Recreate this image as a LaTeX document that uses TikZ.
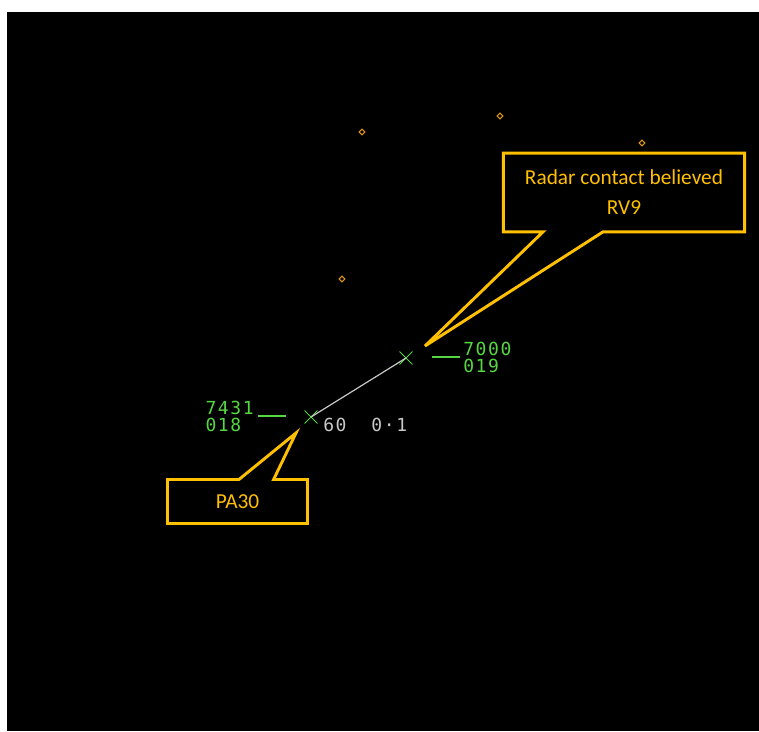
\documentclass[tikz,border=0pt]{standalone}
\usepackage{fontspec}
\setmainfont{Carlito}
\newfontfamily\radarfont[LetterSpace=9]{DejaVu Sans Mono}
\usetikzlibrary{positioning,shapes.misc,shapes.geometric,shapes.callouts}
\definecolor{calloutorange}{RGB}{255,192,0}
\definecolor{fixorange}{RGB}{225,150,25}
\definecolor{radargreen}{RGB}{85,215,65}
\definecolor{radargrey}{RGB}{200,200,200}

\begin{document}
\begin{tikzpicture}[x=0.75pt,y=-0.75pt,
    track/.style={cross out,draw=radargreen,minimum size=9pt,inner sep=0pt,line width=0.7pt},
    fix/.style={diamond,draw=fixorange,minimum size=4.5pt,inner sep=0pt,line width=0.8pt},
    datablock/.style={text=radargreen,font=\radarfont\fontsize{13.5}{12.75}\selectfont,align=left,inner sep=0pt},
    readout/.style={text=radargrey,font=\radarfont\fontsize{13.5}{12.75}\selectfont,inner sep=0pt},
    leader/.style={draw=radargreen,line width=0.8pt},
    balloon/.style={rectangle callout,draw=calloutorange,line width=2.2pt,fill=black,
      text=calloutorange,font=\fontsize{16}{22.5}\selectfont,align=center,inner sep=0pt}]
  \useasboundingbox (0,0) rectangle (759,731);
  \fill[black] (7,12) rectangle (759,731);
  % fixes
  \node[fix] (fixa) at (362,132) {};
  \node[fix] (fixb) at (500,116) {};
  \node[fix] (fixc) at (642,143) {};
  \node[fix] (fixd) at (342,279) {};
  % tracks
  \node[track] (rv9) at (406,358) {};
  \node[track] (pa30) at (311,417) {};
  \draw[radargrey,line width=0.9pt] (pa30.center) -- (rv9.center);
  \coordinate (rvtag) at (432,357);
  \node[datablock,anchor=west] (rvdata) at (463,357) {7000\\019};
  \coordinate (patag) at (286,416);
  \node[datablock,anchor=east] (padata) at (254,416) {7431\\018};
  \path[leader] (rvtag) -- ([xshift=-2pt]rvdata.west)
                (patag) -- ([xshift=3pt]padata.east);
  \node[readout,anchor=west] (rangeread) at (323,425) {60~~0·1};
  % callouts
  \coordinate (rvtip) at (425,346);
  \coordinate (patip) at (296,433);
  \node[balloon,minimum width=181pt,minimum height=59pt,callout pointer width=45pt,
    callout absolute pointer=(rvtip)] (rvnote) at (624,192.5) {Radar contact believed\\RV9};
  \node[balloon,minimum width=105pt,minimum height=33pt,callout pointer width=26pt,
    callout absolute pointer=(patip)] (panote) at (237.5,501.5) {PA30};
\end{tikzpicture}
\end{document}
